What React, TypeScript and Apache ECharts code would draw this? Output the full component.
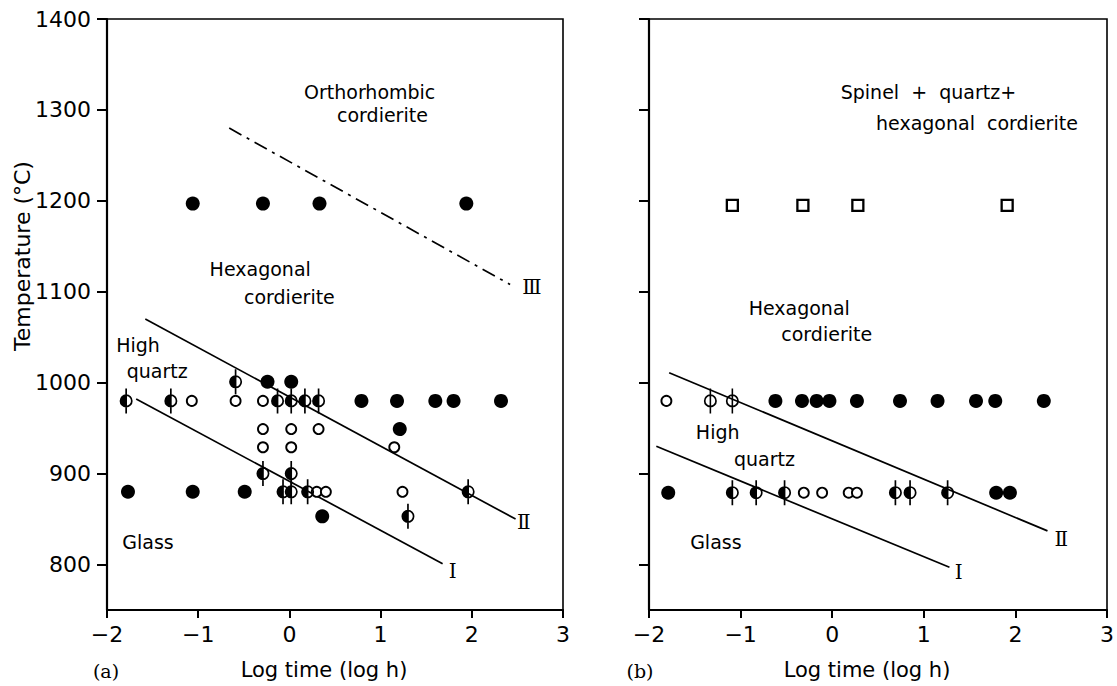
import React, { useEffect, useRef } from "react";
import * as echarts from "echarts";

// ---------- data ----------
const yTicks = [800, 900, 1000, 1100, 1200, 1300, 1400];

// panel (a)
const aFilled = [[-1.06, 1197], [-0.29, 1197], [0.33, 1197], [1.94, 1197], [-0.24, 1001], [0.02, 1001], [0.79, 980], [1.18, 980], [1.6, 980], [1.8, 980], [2.32, 980], [1.21, 949], [-1.77, 880], [-1.06, 880], [-0.49, 880], [0.36, 853]];
const aOpen = [[-1.07, 980], [-0.59, 980], [-0.29, 980], [-0.29, 949], [0.02, 949], [0.32, 949], [-0.29, 929], [0.02, 929], [1.15, 929], [0.3, 880], [0.4, 880], [1.24, 880]];
const aPhi = [[-0.59, 1001], [-1.79, 980], [-1.3, 980], [-0.13, 980], [0.02, 980], [0.17, 980], [0.32, 980], [-0.29, 900], [0.02, 900], [-0.07, 880], [0.02, 880], [0.2, 880], [1.96, 880], [1.3, 853]];
const aLineI = [[-1.68, 982], [1.68, 801]];
const aLineII = [[-1.58, 1070], [2.48, 850]];
const aLineIII = [[-0.66, 1280], [2.42, 1108]];
const aNotes = [[0.88, 1320, "Orthorhombic"], [1.02, 1294, "cordierite"], [-0.32, 1125, "Hexagonal"], [0.0, 1094, "cordierite"], [-1.66, 1041, "High"], [-1.45, 1013, "quartz"], [-1.55, 825, "Glass"]];
const aRoman = [[2.66, 1105, "Ⅲ"], [2.57, 847, "Ⅱ"], [1.79, 793, "Ⅰ"]];

// panel (b)
const bSquare = [[-1.09, 1195], [-0.32, 1195], [0.28, 1195], [1.91, 1195]];
const bFilled = [[-0.62, 980], [-0.33, 980], [-0.17, 980], [-0.03, 980], [0.27, 980], [0.74, 980], [1.15, 980], [1.57, 980], [1.78, 980], [2.31, 980], [-1.79, 879], [1.79, 879], [1.94, 879]];
const bOpen = [[-1.81, 980], [-0.31, 879], [-0.11, 879], [0.18, 879], [0.27, 879]];
const bPhiOpen = [[-1.33, 980], [-1.09, 980]];
const bPhi = [[-1.09, 879], [-0.83, 879], [-0.52, 879], [0.69, 879], [0.85, 879], [1.26, 879]];
const bLineI = [[-1.92, 930], [1.28, 797]];
const bLineII = [[-1.78, 1011], [2.35, 837]];
const bNotes = [[1.05, 1320, "Spinel  +  quartz+"], [1.58, 1286, "hexagonal  cordierite"], [-0.36, 1082, "Hexagonal"], [-0.06, 1054, "cordierite"], [-1.25, 946, "High"], [-0.74, 916, "quartz"], [-1.27, 825, "Glass"]];
const bRoman = [[2.5, 828, "Ⅱ"], [1.38, 792, "Ⅰ"]];

// ---------- styling ----------
const FONT = "DejaVu Sans";
const PHI_HALF =
  "path://M0,-10A10,10,0,1,1,0,10A10,10,0,1,1,0,-10ZM0,-7.4A7.4,7.4,0,1,0,0,7.4A7.4,7.4,0,1,0,0,-7.4ZM0,7.4A7.4,7.4,0,0,1,0,-7.4ZM-1.3,-19L1.3,-19L1.3,19L-1.3,19Z";
const PHI_OPEN =
  "path://M0,-10A10,10,0,1,1,0,10A10,10,0,1,1,0,-10ZM0,-7.4A7.4,7.4,0,1,0,0,7.4A7.4,7.4,0,1,0,0,-7.4ZM-1.2,-19L1.2,-19L1.2,19L-1.2,19Z";

function sc(idx: number, data: any, extra: any) {
  return { type: "scatter", xAxisIndex: idx, yAxisIndex: idx, data, ...extra };
}
function filled(idx: number, data: number[][]) {
  return sc(idx, data, { symbol: "circle", symbolSize: 14, itemStyle: { color: "#000", opacity: 1 }, z: 5 });
}
function open(idx: number, data: number[][]) {
  return sc(idx, data, { symbol: "circle", symbolSize: 10, itemStyle: { color: "#fff", borderColor: "#000", borderWidth: 1.9, opacity: 1 }, z: 6 });
}
function phi(idx: number, data: number[][], path: string) {
  return sc(idx, data, { symbol: path, symbolSize: [13, 25], itemStyle: { color: "#000", opacity: 1 }, z: 7 });
}
function square(idx: number, data: number[][]) {
  return sc(idx, data, { symbol: "rect", symbolSize: 11, itemStyle: { color: "#fff", borderColor: "#000", borderWidth: 2.3, opacity: 1 }, z: 6 });
}
function line(idx: number, data: number[][], dashed = false) {
  return {
    type: "line", xAxisIndex: idx, yAxisIndex: idx, data, symbol: "none", silent: true, z: 3,
    lineStyle: { color: "#000", width: 1.7, opacity: 1, type: dashed ? [14, 6, 3, 6] : "solid" },
  };
}
function notes(idx: number, data: any[][], family: string, size: number) {
  return sc(idx, data.map((d) => ({ value: [d[0], d[1]], name: d[2] })), {
    symbolSize: 1, itemStyle: { color: "rgba(0,0,0,0)", opacity: 1 }, z: 8, silent: true,
    label: { show: true, position: "inside", formatter: (p: any) => p.name, color: "#000", opacity: 1, fontFamily: family, fontSize: size, align: "center", verticalAlign: "middle" },
  });
}

function xAxis(idx: number) {
  return {
    type: "value", gridIndex: idx, min: -2, max: 3, interval: 1,
    name: "Log time (log h)", nameLocation: "middle", nameGap: 49,
    nameTextStyle: { fontFamily: FONT, fontSize: 21, color: "#000", padding: [0, 22, 0, 0] },
    axisLine: { show: true, onZero: false, lineStyle: { color: "#000", width: 2.2 } },
    axisTick: { show: true, inside: false, length: 8, lineStyle: { color: "#000", width: 2 } },
    axisLabel: { fontFamily: FONT, fontSize: 22, color: "#000", margin: 13, formatter: (v: number) => (v < 0 ? "−" + Math.abs(v) : String(v)) },
    splitLine: { show: false },
  };
}
function yAxis(idx: number, labels: boolean) {
  return {
    type: "value", gridIndex: idx, min: 750, max: 1400,
    axisLine: { show: true, onZero: false, lineStyle: { color: "#000", width: 2.2 } },
    axisTick: { show: true, inside: false, length: 10, customValues: yTicks, lineStyle: { color: "#000", width: 2 } },
    axisLabel: { show: labels, customValues: yTicks, fontFamily: FONT, fontSize: 22, color: "#000", margin: 16, formatter: (v: number) => String(v) },
    splitLine: { show: false },
  };
}

export default function App() {
  const ref = useRef<HTMLDivElement>(null);
  useEffect(() => {
    if (!ref.current) return;
    const chart = echarts.init(ref.current, undefined, { renderer: "svg" });
    const grid = (left: number, width: number) => ({ left, top: 19, width, height: 591, show: true, borderColor: "#000", borderWidth: 1.6, backgroundColor: "transparent" });
    chart.setOption({
      animation: false,
      backgroundColor: "#fff",
      grid: [grid(107, 456), grid(649, 460)],
      xAxis: [xAxis(0), xAxis(1)],
      yAxis: [yAxis(0, true), yAxis(1, false)],
      graphic: [
        { type: "text", x: 22, y: 256, rotation: Math.PI / 2, style: { text: "Temperature (°C)", fontFamily: FONT, fontSize: 22, fill: "#000", align: "center", verticalAlign: "middle" } },
        { type: "text", x: 106, y: 671, style: { text: "(a)", fontFamily: "DejaVu Serif", fontSize: 19, fill: "#000", align: "center", verticalAlign: "middle" } },
        { type: "text", x: 640, y: 671, style: { text: "(b)", fontFamily: "DejaVu Serif", fontSize: 19, fill: "#000", align: "center", verticalAlign: "middle" } },
      ],
      series: [
        line(0, aLineI), line(0, aLineII), line(0, aLineIII, true),
        filled(0, aFilled), open(0, aOpen), phi(0, aPhi, PHI_HALF),
        notes(0, aNotes, FONT, 19), notes(0, aRoman, "DejaVu Serif", 20),
        line(1, bLineI), line(1, bLineII),
        square(1, bSquare), filled(1, bFilled), open(1, bOpen), phi(1, bPhiOpen, PHI_OPEN), phi(1, bPhi, PHI_HALF),
        notes(1, bNotes, FONT, 19), notes(1, bRoman, "DejaVu Serif", 20),
      ],
    });
    return () => chart.dispose();
  }, []);
  return <div ref={ref} style={{ position: "absolute", left: 0, top: 0, width: 1117, height: 686 }} />;
}
